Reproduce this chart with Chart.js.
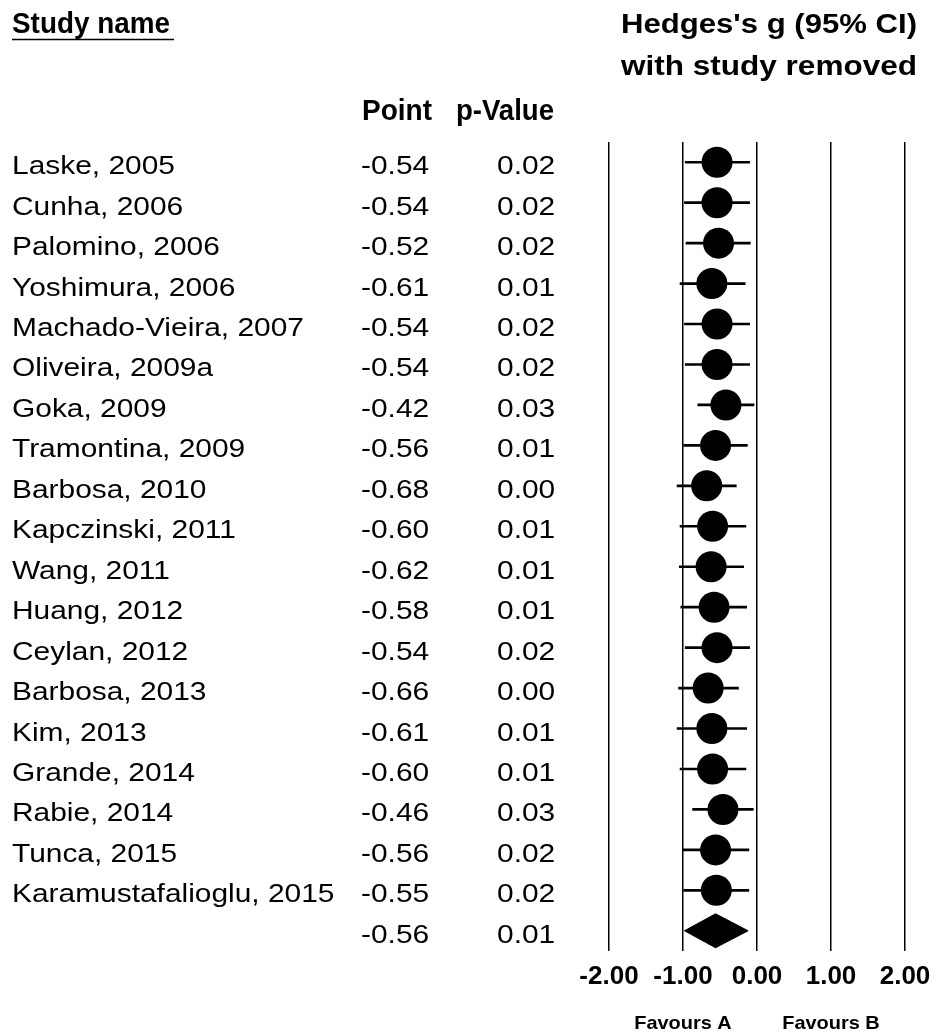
<!DOCTYPE html>
<html>
<head>
<meta charset="utf-8">
<script src="https://cdn.jsdelivr.net/npm/chart.js@4.4.1/dist/chart.umd.min.js"></script>
<style>
  html, body { margin: 0; padding: 0; background: #fff; }
  #wrap { width: 937px; height: 1033px; position: relative; }
</style>
</head>
<body>
<div id="wrap"><canvas id="forest"></canvas></div>
<script>
// ---------- Data ----------
const studies = [
  'Laske, 2005', 'Cunha, 2006', 'Palomino, 2006', 'Yoshimura, 2006', 'Machado-Vieira, 2007',
  'Oliveira, 2009a', 'Goka, 2009', 'Tramontina, 2009', 'Barbosa, 2010', 'Kapczinski, 2011',
  'Wang, 2011', 'Huang, 2012', 'Ceylan, 2012', 'Barbosa, 2013', 'Kim, 2013',
  'Grande, 2014', 'Rabie, 2014', 'Tunca, 2015', 'Karamustafalioglu, 2015'
];
const points = [-0.54, -0.54, -0.52, -0.61, -0.54, -0.54, -0.42, -0.56, -0.68, -0.60,
                -0.62, -0.58, -0.54, -0.66, -0.61, -0.60, -0.46, -0.56, -0.55];
const pValues = ['0.02', '0.02', '0.02', '0.01', '0.02', '0.02', '0.03', '0.01', '0.00', '0.01',
                 '0.01', '0.01', '0.02', '0.00', '0.01', '0.01', '0.03', '0.02', '0.02'];
const lower = [-0.97, -0.98, -0.96, -1.04, -0.98, -0.97, -0.80, -0.99, -1.08, -1.04,
               -1.05, -1.03, -0.97, -1.06, -1.08, -1.04, -0.87, -1.01, -0.99];
const upper = [-0.10, -0.10, -0.09, -0.16, -0.10, -0.10, -0.04, -0.13, -0.28, -0.15,
               -0.18, -0.14, -0.10, -0.25, -0.14, -0.15, -0.05, -0.11, -0.11];

const summaryPoint = -0.56;
const summaryLower = -0.98;
const summaryUpper = -0.12;
const summaryP = '0.01';

const xTicks = [-2, -1, 0, 1, 2];
const favourLabels = ['Favours A', 'Favours B'];
const favourAt = [-1, 1];

// ---------- Build datasets ----------
const rowOf = i => i + 1;
const summaryRow = studies.length + 1;
const DIAMOND_H = 0.42;

const pointData = points.map((p, i) => ({ x: p, y: rowOf(i) }));
const ciData = lower.map((lo, i) => ({ x: [lo, upper[i]], y: rowOf(i) }));
const diamondData = [
  { x: summaryLower, y: summaryRow },
  { x: summaryPoint, y: summaryRow - DIAMOND_H },
  { x: summaryUpper, y: summaryRow },
  { x: summaryPoint, y: summaryRow + DIAMOND_H },
  { x: summaryLower, y: summaryRow },
];

// draw text stretched horizontally by sx (or to a target width)
function drawText(ctx, str, x, y, font, align, sx, targetW) {
  ctx.save();
  ctx.font = font;
  ctx.textAlign = 'left';
  ctx.textBaseline = 'alphabetic';
  ctx.fillStyle = '#000';
  const raw = ctx.measureText(str).width;
  if (targetW) sx = targetW / raw;
  const w = raw * sx;
  const x0 = align === 'center' ? x - w / 2 : align === 'right' ? x - w : x;
  ctx.translate(x0, y);
  ctx.scale(sx, 1);
  ctx.fillText(str, 0, 0);
  ctx.restore();
  return w;
}

const tablePlugin = {
  id: 'tableText',
  afterDraw(chart) {
    const ctx = chart.ctx;
    const ys = chart.scales.y;
    const xs = chart.scales.x;
    const bold = sz => `bold ${sz}px "Liberation Sans", Arial, sans-serif`;
    const reg = sz => `${sz}px "Liberation Sans", Arial, sans-serif`;

    // headers
    drawText(ctx, 'Study name', 12, 33, bold(30), 'left', 1, 158);
    ctx.save();
    ctx.strokeStyle = '#000';
    ctx.lineWidth = 1.5;
    ctx.beginPath();
    ctx.moveTo(12, 39.5);
    ctx.lineTo(174, 39.5);
    ctx.stroke();
    ctx.restore();
    drawText(ctx, "Hedges's g (95% CI)", 769, 33, bold(28), 'center', 1, 296);
    drawText(ctx, 'with study removed', 769, 75, bold(28), 'center', 1, 296);
    drawText(ctx, 'Point', 362, 120, bold(30), 'left', 1, 70);
    drawText(ctx, 'p-Value', 456, 120, bold(30), 'left', 1, 98);

    // rows
    const SX = 1.15;
    studies.forEach((name, i) => {
      const y = ys.getPixelForValue(rowOf(i)) + 12;
      drawText(ctx, name, 12, y, reg(26), 'left', SX);
      drawText(ctx, points[i].toFixed(2), 361, y, reg(26), 'left', SX);
      drawText(ctx, pValues[i], 497, y, reg(26), 'left', SX);
    });
    const ySum = ys.getPixelForValue(summaryRow) + 12;
    drawText(ctx, summaryPoint.toFixed(2), 361, ySum, reg(26), 'left', SX);
    drawText(ctx, summaryP, 497, ySum, reg(26), 'left', SX);

    // favours labels
    favourLabels.forEach((lab, i) => {
      drawText(ctx, lab, xs.getPixelForValue(favourAt[i]), 1029, bold(19), 'center', 1.05);
    });
  }
};

new Chart(document.getElementById('forest'), {
  type: 'scatter',
  data: {
    datasets: [
      {
        type: 'scatter',
        data: pointData,
        pointRadius: 15.5,
        pointHoverRadius: 15.5,
        pointBackgroundColor: '#000',
        pointBorderColor: '#000',
        pointBorderWidth: 0,
        order: 0,
      },
      {
        type: 'scatter',
        data: diamondData,
        showLine: true,
        fill: 'shape',
        tension: 0,
        pointRadius: 0,
        borderColor: '#000',
        borderWidth: 1,
        backgroundColor: '#000',
        order: 1,
      },
      {
        type: 'bar',
        indexAxis: 'y',
        data: ciData,
        barThickness: 2,
        backgroundColor: '#000',
        borderWidth: 0,
        order: 2,
      },
    ]
  },
  options: {
    responsive: true,
    maintainAspectRatio: false,
    animation: false,
    events: [],
    layout: { padding: { left: 609, right: 32, top: 142, bottom: 0 } },
    plugins: { legend: { display: false }, tooltip: { enabled: false } },
    scales: {
      x: {
        type: 'linear',
        min: -2,
        max: 2,
        afterBuildTicks: s => { s.ticks = xTicks.map(v => ({ value: v })); },
        afterFit: s => { s.height = 82; s.paddingLeft = 0; s.paddingRight = 0; },
        grid: { color: '#000', lineWidth: 1.5, drawTicks: false },
        border: { display: false },
        ticks: {
          color: '#000',
          padding: 10,
          maxRotation: 0,
          autoSkip: false,
          font: { family: '"Liberation Sans", Arial, sans-serif', size: 26, weight: 'bold' },
          callback: v => Number(v).toFixed(2),
        },
      },
      y: {
        type: 'linear',
        min: 0.5,
        max: 20.5,
        reverse: true,
        offset: false,
        display: false,
      },
    },
  },
  plugins: [tablePlugin],
});
</script>
</body>
</html>
